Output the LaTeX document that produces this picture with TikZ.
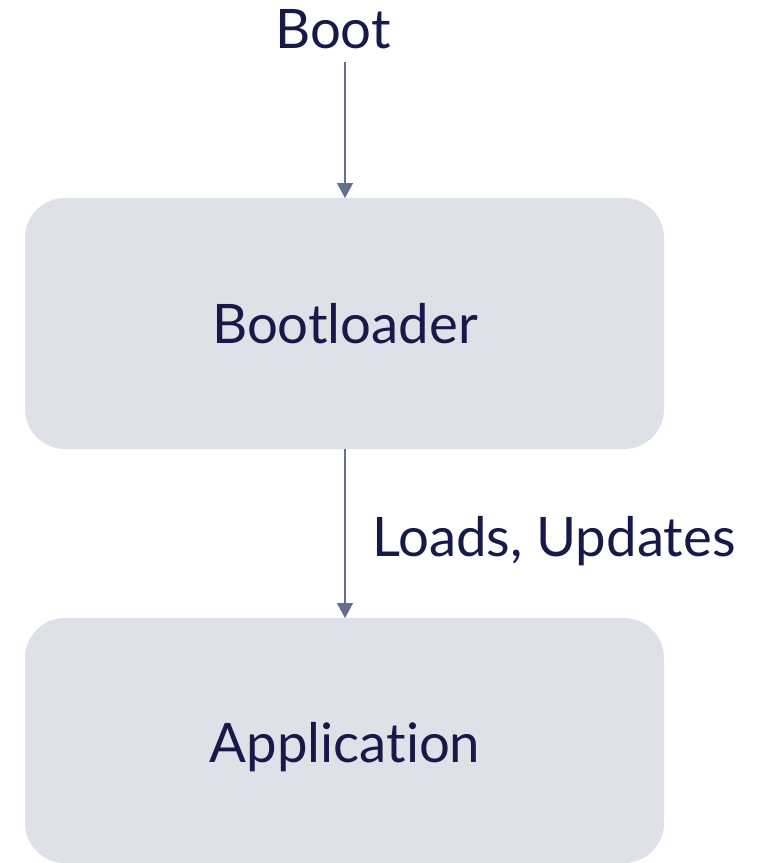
\documentclass[tikz,border=0pt]{standalone}
\usepackage{fontspec}
\setmainfont[Ligatures=NoCommon]{Lato}
\usetikzlibrary{arrows.meta}
\definecolor{boxfill}{HTML}{DFE1E9}
\definecolor{txt}{HTML}{171A48}
\definecolor{arr}{HTML}{646E8E}
\begin{document}
\begin{tikzpicture}[x=1pt,y=-1pt,
  blk/.style={fill=boxfill,draw=none,rounded corners=40pt},
  lbl/.style={text=txt,font=\fontsize{54.5}{58}\selectfont,inner sep=0pt},
  conn/.style={draw=arr,line width=1.5pt,-{Triangle[length=15pt,width=16pt]}}]
\useasboundingbox (0,0) rectangle (761,863);
\fill[blk] (25,198) rectangle (664,449);
\fill[blk] (25,618) rectangle (664,863);
\coordinate (b1top) at (345,198);
\coordinate (b1bot) at (345,449);
\coordinate (b2top) at (345,618);
\node[lbl,anchor=base] (boot) at (333,48) {Boot};
\node[lbl,anchor=base] (bl) at (345,343) {Bootloader};
\node[lbl,anchor=base] (app) at (345,762) {Application};
\node[lbl,anchor=base west] (lu) at (372,556) {Loads, Updates};
\draw[conn] (345,62) -- (b1top);
\draw[conn] (b1bot) -- (b2top);
\end{tikzpicture}
\end{document}
